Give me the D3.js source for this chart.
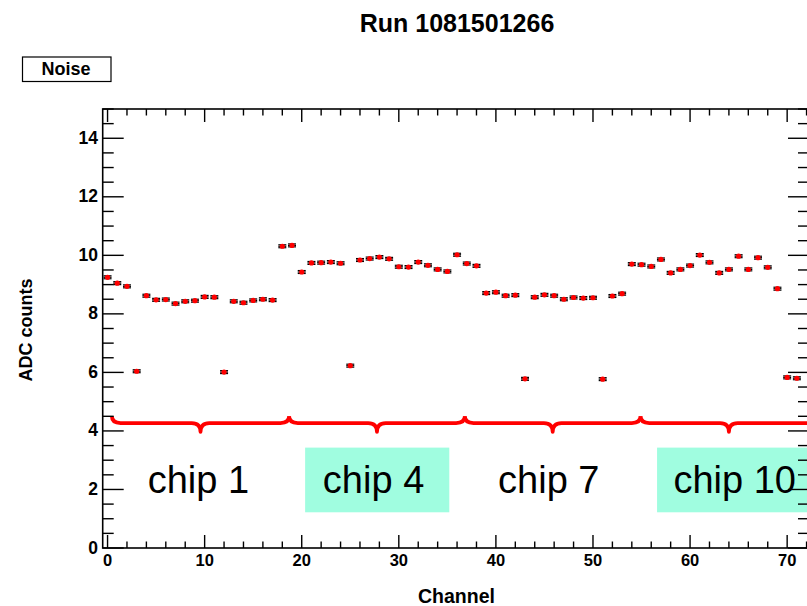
<!DOCTYPE html>
<html><head><meta charset="utf-8">
<script src="https://cdn.jsdelivr.net/npm/d3@7"></script>
<style>
html,body{margin:0;padding:0;background:#fff;}
svg{display:block;font-family:"Liberation Sans",Arial,Helvetica,sans-serif;}
</style></head>
<body>
<svg id="chart" width="807" height="606"></svg>
<script>
const title = "Run 1081501266";
const legendLabel = "Noise";
const xTitle = "Channel";
const yTitle = "ADC counts";
const channels = [0,1,2,3,4,5,6,7,8,9,10,11,12,13,14,15,16,17,18,19,20,21,22,23,24,25,26,27,28,29,30,31,32,33,34,35,
  36,37,38,39,40,41,42,43,44,45,46,47,48,49,50,51,52,53,54,55,56,57,58,59,60,61,62,63,64,65,66,67,68,69,70,71];
const noise = [9.25,9.05,8.94,6.04,8.62,8.48,8.49,8.35,8.43,8.45,8.58,8.57,6.01,8.43,8.38,8.46,8.50,8.47,
  10.31,10.34,9.43,9.74,9.75,9.77,9.73,6.23,9.84,9.89,9.94,9.88,9.61,9.60,9.77,9.66,9.52,9.45,10.02,9.72,
  9.64,8.71,8.74,8.62,8.64,5.78,8.57,8.65,8.62,8.50,8.56,8.54,8.55,5.77,8.61,8.69,
  9.70,9.68,9.62,9.86,9.40,9.52,9.65,10.01,9.76,9.40,9.52,9.97,9.52,9.92,9.59,8.86,5.83,5.80];
const noiseErr = 0.05;
const xTicks = [0,10,20,30,40,50,60,70];
const yTicks = [0,2,4,6,8,10,12,14];
const chipNames = ["chip 1","chip 4","chip 7","chip 10"];
const chipLabelX = [9.35,27.4,45.45,64.6];
const chipBoxX = [[20.35,35.2],[56.6,73.5]];
const chipBoxY = [1.22,3.43];
const braceRanges = [[0.45,18.7],[18.7,36.8],[36.8,54.9],[54.9,73.1]];
const braceLevel = 4.27, braceTop = 4.5, braceTip = 3.97;

const svg = d3.select("#chart");
const L = 102.7, R = 809, T = 109, B = 548;
const x = d3.scaleLinear().domain([-0.5, 72.25]).range([L, R]);
const y = d3.scaleLinear().domain([0, 15]).range([B, T]);

// chip boxes
svg.append("g").selectAll("rect").data(chipBoxX).join("rect")
  .attr("x", d => x(d[0])).attr("width", d => x(d[1]) - x(d[0]))
  .attr("y", y(chipBoxY[1])).attr("height", y(chipBoxY[0]) - y(chipBoxY[1]))
  .attr("fill", "#a0fde0");

// chip labels
svg.append("g").selectAll("text").data(chipNames).join("text")
  .attr("x", (d,i) => x(chipLabelX[i])).attr("y", 493)
  .attr("text-anchor", "middle").attr("font-size", 38).attr("fill", "#000")
  .text(d => d);

// braces
const q = 0.9;
function bracePath(r){
  const a = x(r[0]), b = x(r[1]), m = (a+b)/2;
  const yh = y(braceLevel), yt = y(braceTop), yb = y(braceTip);
  const dq = x(q) - x(0);
  return `M${a},${yt} Q${a},${yh} ${a+dq},${yh} L${m-dq},${yh} Q${m},${yh} ${m},${yb} Q${m},${yh} ${m+dq},${yh} L${b-dq},${yh} Q${b},${yh} ${b},${yt}`;
}
svg.append("g").selectAll("path").data(braceRanges).join("path")
  .attr("d", bracePath).attr("fill", "none").attr("stroke", "#ff0000")
  .attr("stroke-width", 3.8).attr("stroke-linejoin", "round");

// frame and axes
const g = svg.append("g");
g.append("rect").attr("x", L).attr("y", T).attr("width", R - L).attr("height", B - T)
  .attr("fill", "none").attr("stroke", "#000").attr("stroke-width", 1.6);

const xMinor = d3.range(0, 73, 2);
const yMinor = d3.range(0, 15.01, 0.5);
xMinor.forEach(v => {
  const major = v % 10 === 0;
  const len = major ? 13 : 6.5;
  g.append("line").attr("x1", x(v)).attr("x2", x(v)).attr("y1", B).attr("y2", B - len).attr("stroke", "#000").attr("stroke-width", 1.4);
  g.append("line").attr("x1", x(v)).attr("x2", x(v)).attr("y1", T).attr("y2", T + len).attr("stroke", "#000").attr("stroke-width", 1.4);
});
yMinor.forEach(v => {
  const major = Math.abs(v % 2) < 1e-9;
  const len = major ? 21 : 11;
  g.append("line").attr("x1", L).attr("x2", L + len).attr("y1", y(v)).attr("y2", y(v)).attr("stroke", "#000").attr("stroke-width", 1.4);
  g.append("line").attr("x1", R).attr("x2", R - len).attr("y1", y(v)).attr("y2", y(v)).attr("stroke", "#000").attr("stroke-width", 1.4);
});

g.append("g").selectAll("text").data(xTicks).join("text")
  .attr("x", d => x(d)).attr("y", 566).attr("text-anchor", "middle")
  .attr("font-size", 16.5).attr("font-weight", "bold").text(d => d);
g.append("g").selectAll("text").data(yTicks).join("text")
  .attr("x", 98).attr("y", d => y(d) + 5.5).attr("text-anchor", "end")
  .attr("font-size", 17.5).attr("font-weight", "bold").text(d => d);

// titles
svg.append("text").attr("x", 457).attr("y", 31.5).attr("text-anchor", "middle")
  .attr("font-size", 25).attr("font-weight", "bold").text(title);
svg.append("text").attr("x", 456.5).attr("y", 603).attr("text-anchor", "middle")
  .attr("font-size", 19.5).attr("font-weight", "bold").text(xTitle);
svg.append("text").attr("transform", "translate(32,330) rotate(-90)").attr("text-anchor", "middle")
  .attr("font-size", 18).attr("font-weight", "bold").text(yTitle);

// legend box
svg.append("rect").attr("x", 22.5).attr("y", 57).attr("width", 88.5).attr("height", 24.5)
  .attr("fill", "#fff").attr("stroke", "#000").attr("stroke-width", 1.2);
svg.append("text").attr("x", 66).attr("y", 74.5).attr("text-anchor", "middle")
  .attr("font-size", 18).attr("font-weight", "bold").text(legendLabel);

// data points with error bars
const pts = svg.append("g").selectAll("g").data(channels).join("g");
const hw = 4;
pts.append("line").attr("x1", d => x(d) - hw).attr("x2", d => x(d) + hw)
  .attr("y1", (d,i) => y(noise[i])).attr("y2", (d,i) => y(noise[i])).attr("stroke", "#000").attr("stroke-width", 1.2);
pts.append("line").attr("x1", d => x(d) - hw).attr("x2", d => x(d) + hw)
  .attr("y1", (d,i) => y(noise[i] + noiseErr)).attr("y2", (d,i) => y(noise[i] + noiseErr)).attr("stroke", "#000").attr("stroke-width", 1.2);
pts.append("line").attr("x1", d => x(d) - hw).attr("x2", d => x(d) + hw)
  .attr("y1", (d,i) => y(noise[i] - noiseErr)).attr("y2", (d,i) => y(noise[i] - noiseErr)).attr("stroke", "#000").attr("stroke-width", 1.2);
pts.append("circle").attr("cx", d => x(d)).attr("cy", (d,i) => y(noise[i])).attr("r", 2.6).attr("fill", "#ff0000");
</script>
</body></html>
